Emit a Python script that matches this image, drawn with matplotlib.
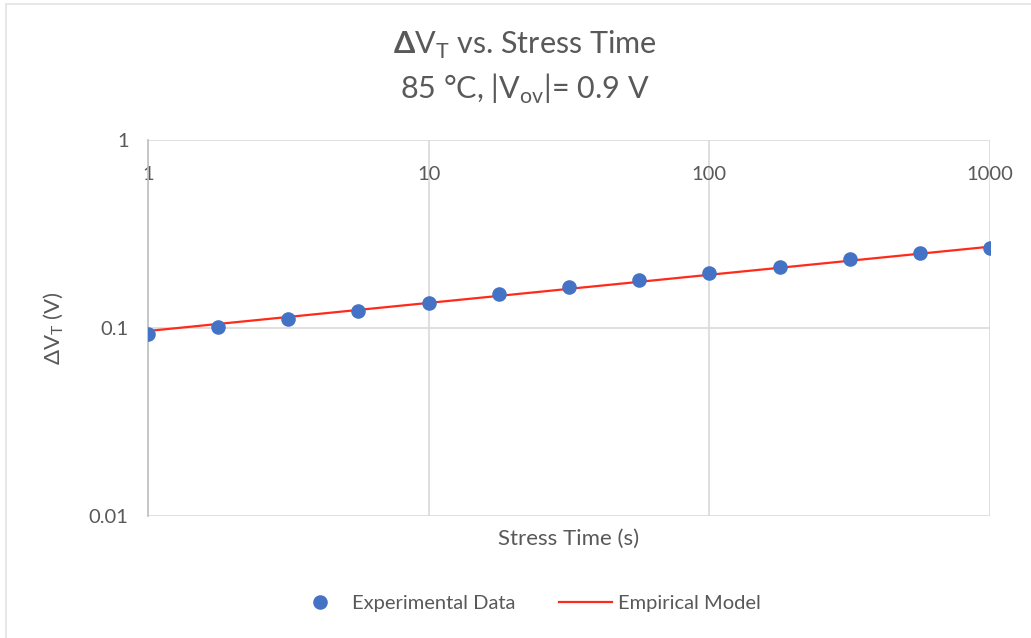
import matplotlib
matplotlib.use("Agg")
import matplotlib.pyplot as plt
from matplotlib.lines import Line2D
from matplotlib.ticker import FixedLocator, FixedFormatter, NullLocator

plt.rcParams['font.family'] = ['Lato', 'DejaVu Sans']
plt.rcParams['mathtext.fontset'] = 'custom'
plt.rcParams['mathtext.rm'] = 'Lato'
plt.rcParams['mathtext.bf'] = 'Lato:bold'

# Data
stress_time = [1, 1.78, 3.16, 5.62, 10, 17.8, 31.6, 56.2, 100, 178, 316, 562, 1000]
dvt_experimental = [0.0926, 0.1016, 0.1113, 0.1227, 0.1363, 0.1522, 0.1646, 0.1800,
                    0.1954, 0.2112, 0.2319, 0.2515, 0.2664]
dvt_model = [0.0964, 0.1051, 0.1145, 0.1248, 0.1360, 0.1482, 0.1615, 0.1760,
             0.1919, 0.2091, 0.2279, 0.2484, 0.2707]
x_ticks = [1, 10, 100, 1000]
x_tick_labels = ["1", "10", "100", "1000"]
y_ticks = [0.01, 0.1, 1]
y_tick_labels = ["0.01", "0.1", "1"]

TXT = '#595959'
GRID = '#d9d9d9'

fig = plt.figure(figsize=(10.31, 6.38), dpi=100)
ax = fig.add_axes([148/1031, 1-516/638, (990-148)/1031, (516-140)/638])

ax.set_xscale('log')
ax.set_yscale('log')
ax.set_xlim(1, 1000)
ax.set_ylim(0.01, 1)

ax.plot(stress_time, dvt_model, color='#ff2a1a', lw=1.6, zorder=3)
ax.plot(stress_time, dvt_experimental, 'o', color='#4472c4', ms=10.5, zorder=4,
        markeredgewidth=0)

ax.xaxis.set_major_locator(FixedLocator(x_ticks))
ax.xaxis.set_major_formatter(FixedFormatter(x_tick_labels))
ax.xaxis.set_minor_locator(NullLocator())
ax.yaxis.set_major_locator(FixedLocator(y_ticks))
ax.yaxis.set_major_formatter(FixedFormatter(y_tick_labels))
ax.yaxis.set_minor_locator(NullLocator())

ax.grid(True, which='major', color=GRID, lw=1.2, zorder=0)
ax.set_axisbelow(True)
for s in ['top', 'right', 'bottom']:
    ax.spines[s].set_visible(False)
ax.spines['left'].set_color('#bfbfbf')
ax.spines['left'].set_linewidth(1.2)

ax.tick_params(axis='x', which='both', length=0, top=False, bottom=False,
               labeltop=True, labelbottom=False, pad=-31, labelsize=14.5, labelcolor=TXT)
ax.tick_params(axis='y', which='both', length=0, pad=14, labelsize=14.5, labelcolor=TXT)

ax.set_xlabel('Stress Time (s)', fontsize=16, color=TXT, labelpad=9)
ax.xaxis.set_label_position('bottom')
ax.set_ylabel(r'$\Delta$V$_\mathrm{T}$ (V)', fontsize=16, color=TXT, labelpad=16)

fig.text(0.509, 1-45/638, r'$\mathbf{\Delta}$V$_\mathrm{T}$ vs. Stress Time',
         ha='center', va='center', fontsize=22, color=TXT)
fig.text(0.509, 1-89/638, r'85 °C, |V$_\mathrm{ov}$|= 0.9 V',
         ha='center', va='center', fontsize=22, color=TXT)

handles = [Line2D([], [], marker='o', ls='none', color='#4472c4', ms=10.5, markeredgewidth=0),
           Line2D([], [], color='#ff2a1a', lw=1.6)]
fig.legend(handles, ['Experimental Data', 'Empirical Model'], loc='center',
           bbox_to_anchor=(527/1031, 1-603/638), ncol=2, frameon=False,
           fontsize=14.5, labelcolor=TXT, handlelength=2.6, columnspacing=2.2,
           handletextpad=0.3)

# chart border (top and left edges visible)
fig.add_artist(Line2D([6/1031, 1], [1-4/638, 1-4/638], color='#e3e3e3', lw=1.2,
                      transform=fig.transFigure))
fig.add_artist(Line2D([6/1031, 6/1031], [0, 1-4/638], color='#e3e3e3', lw=1.2,
                      transform=fig.transFigure))

fig.savefig('out.png', dpi=100, facecolor='white')
